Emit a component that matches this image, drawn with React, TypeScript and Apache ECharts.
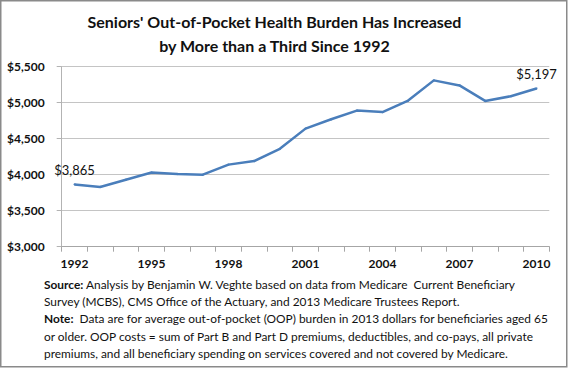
import React, { useEffect, useRef } from "react";
import * as echarts from "echarts";

const years = ["1992","1993","1994","1995","1996","1997","1998","1999","2000","2001","2002","2003","2004","2005","2006","2007","2008","2009","2010"];
const burden = [3865, 3830, 3930, 4030, 4010, 4000, 4140, 4190, 4360, 4640, 4770, 4890, 4870, 5030, 5310, 5240, 5025, 5090, 5197];
const titleLines = ["Seniors' Out-of-Pocket Health Burden Has Increased", "by More than a Third Since 1992"];
const noteLines = [
  ["Source:", " Analysis by Benjamin W. Veghte based on data from Medicare  Current Beneficiary"],
  ["", "Survey (MCBS), CMS Office of the Actuary, and 2013 Medicare Trustees Report."],
  ["Note:", "  Data are for average out-of-pocket (OOP) burden in 2013 dollars for beneficiaries aged 65"],
  ["", "or older. OOP costs = sum of Part B and Part D premiums, deductibles, and co-pays, all private"],
  ["", "premiums, and all beneficiary spending on services covered and not covered by Medicare."],
];

const FONT = "Lato, 'Open Sans', sans-serif";

function money(v: number): string {
  return "$" + String(Math.round(v)).replace(/\B(?=(\d{3})+(?!\d))/g, ",");
}

export default function App() {
  const ref = useRef<HTMLDivElement>(null);
  useEffect(() => {
    if (!ref.current) return;
    const chart = echarts.init(ref.current, null, { renderer: "svg" });
    const last = burden.length - 1;
    const noteY = [284, 301, 318.5, 336, 353];
    chart.setOption({
      animation: false,
      backgroundColor: "#ffffff",
      grid: { left: 61.7, right: 20.7, top: 66.7, bottom: 122.3, containLabel: false },
      xAxis: {
        type: "category",
        data: years,
        boundaryGap: true,
        axisLine: { show: true, lineStyle: { color: "#a6a6a6", width: 1 } },
        axisTick: { show: true, interval: 0, length: 5, lineStyle: { color: "#a6a6a6" } },
        axisLabel: { interval: 2, margin: 11, fontFamily: FONT, fontWeight: "bold", fontSize: 12, color: "#111" },
        splitLine: { show: false },
      },
      yAxis: {
        type: "value",
        min: 3000,
        max: 5500,
        interval: 500,
        axisLine: { show: true, lineStyle: { color: "#b3b3b3", width: 1 } },
        axisTick: { show: true, length: 5, lineStyle: { color: "#b3b3b3" } },
        axisLabel: { margin: 17, fontFamily: FONT, fontWeight: "bold", fontSize: 12, color: "#111", formatter: (v: number) => money(v) },
        splitLine: { show: true, lineStyle: { color: "#c4c4c4", width: 1 } },
      },
      series: [
        {
          type: "line",
          data: burden.map((v, i) =>
            i === 0 || i === last
              ? { value: v, label: { show: true, position: "top", distance: 7, formatter: () => money(v), fontFamily: FONT, fontSize: 13, color: "#111" } }
              : v
          ),
          showSymbol: true,
          symbol: "circle",
          symbolSize: 2,
          lineStyle: { color: "#4A7EBB", width: 2.5 },
          itemStyle: { color: "#4A7EBB" },
          silent: true,
        },
      ],
      graphic: [
        {
          type: "rect",
          shape: { x: 0.75, y: 0.75, width: 566, height: 366 },
          style: { fill: "none", stroke: "#8a8a8a", lineWidth: 1.5 },
          silent: true,
        },
        {
          type: "text",
          x: 274.5,
          y: 9,
          style: {
            text: titleLines.join("\n"),
            fontFamily: FONT,
            fontWeight: "bold",
            fontSize: 16,
            lineHeight: 24,
            fill: "#111",
            align: "center",
            verticalAlign: "top",
          },
        },
        ...noteLines.map((ln, i) => ({
          type: "text",
          x: 44,
          y: noteY[i],
          style: {
            text: (ln[0] ? "{b|" + ln[0] + "}" : "") + "{n|" + ln[1] + "}",
            align: "left",
            verticalAlign: "middle",
            rich: {
              b: { fontFamily: FONT, fontWeight: "bold", fontSize: 11.9, fill: "#111" },
              n: { fontFamily: FONT, fontSize: 11.9, fill: "#111" },
            },
          },
        })),
      ],
    });
    return () => chart.dispose();
  }, []);
  return <div ref={ref} style={{ position: "absolute", left: 0, top: 0, width: 570, height: 369 }} />;
}
